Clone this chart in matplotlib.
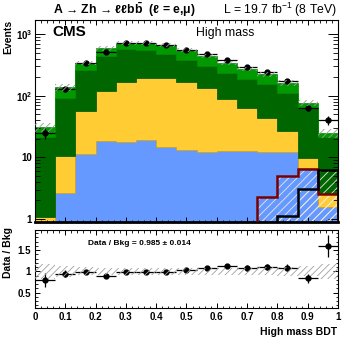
import numpy as np
import matplotlib
matplotlib.use("Agg")
import matplotlib.pyplot as plt
from matplotlib.ticker import MultipleLocator, LogLocator, NullFormatter

plt.rcParams['font.family'] = ['Liberation Sans', 'DejaVu Sans']
plt.rcParams['mathtext.fontset'] = 'custom'
plt.rcParams['mathtext.rm'] = 'Liberation Sans'
plt.rcParams['mathtext.bf'] = 'Liberation Sans:bold'
plt.rcParams['hatch.linewidth'] = 0.6

edges = np.linspace(0, 1, 16)
centers = 0.5 * (edges[1:] + edges[:-1])
half_width = 0.5 * (edges[1] - edges[0])

# background components, bottom to top
bkg_blue = np.array([0.3, 2.67, 11.3, 18.6, 17.9, 19.1, 14.9, 13.1, 12.2, 12.7, 12.7, 12.2, 12.2, 6.6, 1.56])
bkg_yellow = np.array([0.75, 7.9, 45.6, 100, 150, 172, 176, 151, 119, 74.4, 49.6, 30.7, 14.8, 3.0, 0.98])
bkg_dkgreen = np.array([20.3, 79.8, 203, 319, 395, 357, 281, 214, 171, 143, 122, 109, 84, 52.7, 19.1])
bkg_ltgreen = np.array([9.7, 45.6, 81, 146, 157, 172, 189, 170, 136, 111, 89, 72, 51, 14.4, 3.4])
bkg_unc = np.array([0.18, 0.13, 0.09, 0.08, 0.08, 0.08, 0.08, 0.08, 0.08, 0.08, 0.08, 0.09, 0.10, 0.12, 0.17])

# signal hypotheses (overlaid)
sig_red = np.array([0.01, 0.01, 0.01, 0.01, 0.01, 0.01, 0.01, 0.01, 0.01, 0.01, 0.01, 2.3, 4.98, 6.46, 2.54])
sig_black = np.array([0.01, 0.01, 0.01, 0.01, 0.01, 0.01, 0.01, 0.01, 0.01, 0.01, 0.01, 0.01, 1.13, 3.03, 6.2])

data = np.array([25, 128, 334, 514, 709, 713, 654, 559, 473, 384, 295, 245, 175, 64, 40])

fig = plt.figure(figsize=(3.55, 3.44), dpi=100)
ax = fig.add_axes([0.0986, 0.3547, 0.8535, 0.5872])
rax = fig.add_axes([0.0986, 0.1047, 0.8535, 0.2267])

colors = ['#6699ff', '#ffcc33', '#006600', '#009900']
edgecols = ['#5a88e0', '#c9a020', '#005a00', '#008a00']
base = 0.01
bottom = np.full(len(centers), base)
for vals, c, ec in zip([bkg_blue, bkg_yellow, bkg_dkgreen, bkg_ltgreen], colors, edgecols):
    top = bottom + vals
    ax.stairs(top, edges, baseline=bottom, fill=True, facecolor=c, edgecolor=ec, lw=0.5, zorder=1)
    bottom = top
total = bottom - base

# signals: hatched overlay + outline
for sig in (sig_red, sig_black):
    ax.stairs(sig, edges, baseline=base, fill=True, facecolor='none',
              edgecolor='#e8e8e8', hatch='////', lw=0, zorder=2)
for sig, lc in [(sig_red, '#7a0000'), (sig_black, 'black')]:
    ax.stairs(sig, edges, baseline=base, color=lc, lw=1.8, zorder=3)

ax.errorbar(centers, data, xerr=half_width, yerr=np.sqrt(data), fmt='o', color='black',
            ms=3.5, lw=0.9, capsize=0, zorder=4)
ax.stairs(total * (1 + bkg_unc), edges, baseline=total * (1 - bkg_unc), fill=True,
          facecolor='none', edgecolor='#9a9a9a', hatch='/////', lw=0, zorder=5)

ax.set_yscale('log')
ax.set_xlim(0, 1)
ax.set_ylim(0.895, 1690)
ax.set_yticks([1, 10, 100, 1000], ['1', '10', r'$\mathbf{10^{2}}$', r'$\mathbf{10^{3}}$'])
ax.yaxis.set_minor_locator(LogLocator(subs=np.arange(2, 10)))
ax.yaxis.set_minor_formatter(NullFormatter())
ax.xaxis.set_major_locator(MultipleLocator(0.1))
ax.xaxis.set_minor_locator(MultipleLocator(0.02))
ax.tick_params(which='both', direction='in', top=True, right=True, labelbottom=False)
ax.tick_params(axis='y', which='major', length=7, width=0.7, pad=2, labelsize=7)
ax.tick_params(axis='y', which='minor', length=3.5, width=0.6)
ax.tick_params(axis='x', which='major', length=3.6, width=0.7)
ax.tick_params(axis='x', which='minor', length=1.8, width=0.6)
for lab in ax.get_yticklabels():
    lab.set_fontweight('bold')
ax.spines['bottom'].set_linewidth(2)

ax.text(0.056, 0.975, 'CMS', transform=ax.transAxes, fontsize=11, fontweight='bold', va='top', ha='left')
ax.text(0.627, 0.936, 'High mass', transform=ax.transAxes, fontsize=8.8, va='center', ha='center')

# ratio panel
ratio = data / total
rax.errorbar(centers, ratio, xerr=half_width, yerr=np.sqrt(data) / total, fmt='o', color='black',
             ms=3.5, lw=0.9, capsize=0, zorder=3)
rax.stairs(1 + bkg_unc, edges, baseline=1 - bkg_unc, fill=True, facecolor='none',
           edgecolor='#a0a0a0', hatch='/////', lw=0, zorder=4)
rax.set_xlim(0, 1)
rax.set_ylim(0.14, 1.97)
rax.yaxis.set_minor_locator(MultipleLocator(0.1))
rax.xaxis.set_minor_locator(MultipleLocator(0.02))
rax.set_xticks(np.arange(0, 1.01, 0.1), ['0', '0.1', '0.2', '0.3', '0.4', '0.5', '0.6', '0.7', '0.8', '0.9', '1'])
rax.set_yticks([0.5, 1, 1.5], ['0.5', '1', '1.5'])
rax.tick_params(which='both', direction='in', top=True, right=True, labelsize=7, pad=3)
rax.tick_params(which='major', length=3.6, width=0.7)
rax.tick_params(which='minor', length=1.8, width=0.6)
for lab in rax.get_xticklabels() + rax.get_yticklabels():
    lab.set_fontweight('bold')
rax.text(0.175, 0.833, 'Data / Bkg = 0.985 ± 0.014', transform=rax.transAxes,
         fontsize=6, fontweight='bold', va='center', ha='left')

for a in (ax, rax):
    for s in ('left', 'right', 'top'):
        a.spines[s].set_linewidth(0.8)
rax.spines['bottom'].set_linewidth(0.8)

fig.text(0.149, 0.971, r'A → Zh → ℓℓb$\mathbf{\bar{b}}$  (ℓ = e,μ)', fontsize=8.8, fontweight='bold',
         ha='left', va='center')
fig.text(0.95, 0.971, r'L = 19.7 fb$^{-1}$ (8 TeV)', fontsize=8.8, ha='right', va='center')
fig.text(0.022, 1 - 20 / 344, 'Events', rotation=90, fontsize=7.5, fontweight='bold', ha='center', va='top')
fig.text(0.022, 1 - 227 / 344, 'Data / Bkg', rotation=90, fontsize=7.5, fontweight='bold', ha='center', va='top')
fig.text(0.95, 1 - 332 / 344, 'High mass BDT', fontsize=7.5, fontweight='bold', ha='right', va='center')

fig.savefig('out.png', dpi=100)
